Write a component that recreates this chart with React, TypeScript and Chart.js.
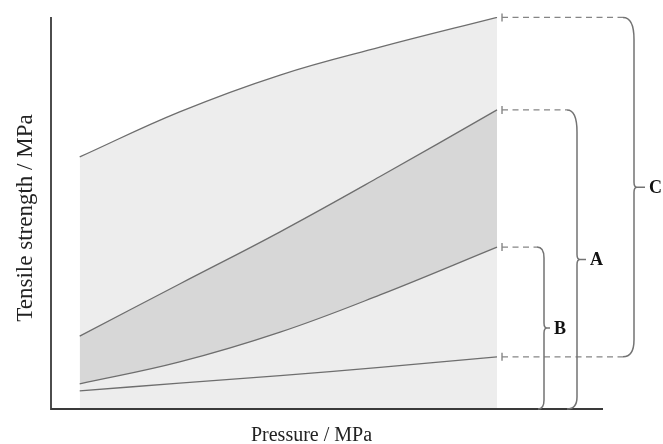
import React, { useEffect, useRef } from "react";
import { Chart, registerables } from "chart.js";

Chart.register(...registerables);

// ---- data ----
const pressure = [5.2, 23.3, 41.5, 59.6, 80.8];
const upperBound = [64.3, 75.8, 85.2, 92.3, 99.9];
const curveA = [18.6, 31.9, 45.2, 59.3, 76.3];
const curveB = [6.4, 12.0, 19.6, 29.1, 41.3];
const lowerBound = [4.6, 6.6, 8.5, 10.6, 13.3];

const xTitle = "Pressure / MPa";
const yTitle = "Tensile strength / MPa";
const braceLabels = ["C", "A", "B"];

const SERIF = '"Liberation Serif", "Times New Roman", serif';

const pts = (ys: number[]) => pressure.map((x, i) => ({ x, y: ys[i] }));

const annotPlugin = {
  id: "annot",
  afterDatasetsDraw(chart: any) {
    const { ctx, chartArea, scales } = chart;
    const xs = scales.x;
    const ys = scales.y;
    const last = pressure.length - 1;
    const endPx = xs.getPixelForValue(pressure[last]);
    const startX = endPx + 5;
    const yU = ys.getPixelForValue(upperBound[last]);
    const yA = ys.getPixelForValue(curveA[last]);
    const yB = ys.getPixelForValue(curveB[last]);
    const yL = ys.getPixelForValue(lowerBound[last]);
    const yAxis = chartArea.bottom;

    ctx.save();
    // axes
    ctx.strokeStyle = "#3a3a3a";
    ctx.lineWidth = 1.8;
    ctx.beginPath();
    ctx.moveTo(chartArea.left, chartArea.top);
    ctx.lineTo(chartArea.left, chartArea.bottom);
    ctx.lineTo(chartArea.right, chartArea.bottom);
    ctx.stroke();

    const dashed = (y: number, x2: number) => {
      ctx.save();
      ctx.strokeStyle = "#858585";
      ctx.lineWidth = 1.4;
      ctx.setLineDash([]);
      ctx.beginPath();
      ctx.moveTo(startX, y - 4);
      ctx.lineTo(startX, y + 4);
      ctx.stroke();
      ctx.setLineDash([6, 4.5]);
      ctx.beginPath();
      ctx.moveTo(startX, y);
      ctx.lineTo(x2, y);
      ctx.stroke();
      ctx.restore();
    };

    const brace = (
      bx: number,
      yTop: number,
      yBot: number,
      rt: [number, number],
      rb: [number, number],
      nib: number,
      label: string,
      bottomDashed: boolean
    ) => {
      const mid = (yTop + yBot) / 2;
      dashed(yTop, bx - rt[0]);
      if (bottomDashed) dashed(yBot, bx - rb[0]);
      ctx.save();
      ctx.strokeStyle = "#737373";
      ctx.lineWidth = 1.5;
      ctx.setLineDash([]);
      ctx.beginPath();
      ctx.moveTo(bx - rt[0], yTop);
      ctx.quadraticCurveTo(bx, yTop, bx, yTop + rt[1]);
      ctx.lineTo(bx, mid - 5);
      ctx.quadraticCurveTo(bx, mid, bx + 3, mid);
      ctx.lineTo(bx + nib, mid);
      ctx.moveTo(bx + 3, mid);
      ctx.quadraticCurveTo(bx, mid, bx, mid + 5);
      ctx.lineTo(bx, yBot - rb[1]);
      ctx.quadraticCurveTo(bx, yBot, bx - rb[0], yBot);
      ctx.stroke();
      ctx.fillStyle = "#111";
      ctx.font = `bold 18px ${SERIF}`;
      ctx.textBaseline = "middle";
      ctx.textAlign = "left";
      ctx.fillText(label, bx + nib + 4, mid + 1);
      ctx.restore();
    };

    brace(634, yU, yL, [11, 22], [11, 17], 11, braceLabels[0], true);
    brace(577, yA, yAxis, [10, 22], [10, 12], 9, braceLabels[1], false);
    brace(544, yB, yAxis, [7, 11], [6, 9], 6, braceLabels[2], false);

    // axis titles
    ctx.fillStyle = "#222";
    ctx.textAlign = "center";
    ctx.textBaseline = "alphabetic";
    ctx.font = `20px ${SERIF}`;
    ctx.fillText(xTitle, 311.5, 441);
    ctx.save();
    ctx.translate(32, 218);
    ctx.rotate(-Math.PI / 2);
    ctx.font = `23px ${SERIF}`;
    ctx.fillText(yTitle, 0, 0);
    ctx.restore();

    ctx.restore();
  },
};

export default function App() {
  const ref = useRef<HTMLCanvasElement | null>(null);
  useEffect(() => {
    if (!ref.current) return;
    const line = {
      borderColor: "#6e6e6e",
      borderWidth: 1.3,
      pointRadius: 0,
      tension: 0.4,
    };
    const chart = new Chart(ref.current, {
      type: "line",
      data: {
        datasets: [
          { ...line, label: "lower", data: pts(lowerBound), fill: false },
          { ...line, label: "B", data: pts(curveB), fill: false },
          { ...line, label: "A", data: pts(curveA), fill: "-1", backgroundColor: "#d7d7d7" },
          { ...line, label: "upper", data: pts(upperBound), fill: "origin", backgroundColor: "#ededed" },
        ],
      },
      options: {
        animation: false,
        responsive: false,
        devicePixelRatio: 1,
        layout: { padding: { left: 51, top: 17, right: 60, bottom: 35 } },
        scales: {
          x: { type: "linear", min: 0, max: 100, display: false },
          y: { type: "linear", min: 0, max: 100, display: false },
        },
        plugins: {
          legend: { display: false },
          tooltip: { enabled: false },
          filler: { drawTime: "beforeDatasetsDraw" },
        },
      },
      plugins: [annotPlugin],
    });
    return () => chart.destroy();
  }, []);
  return (
    <div style={{ position: "fixed", left: 0, top: 0, width: 663, height: 444, background: "#fff" }}>
      <canvas ref={ref} width={663} height={444} />
    </div>
  );
}
